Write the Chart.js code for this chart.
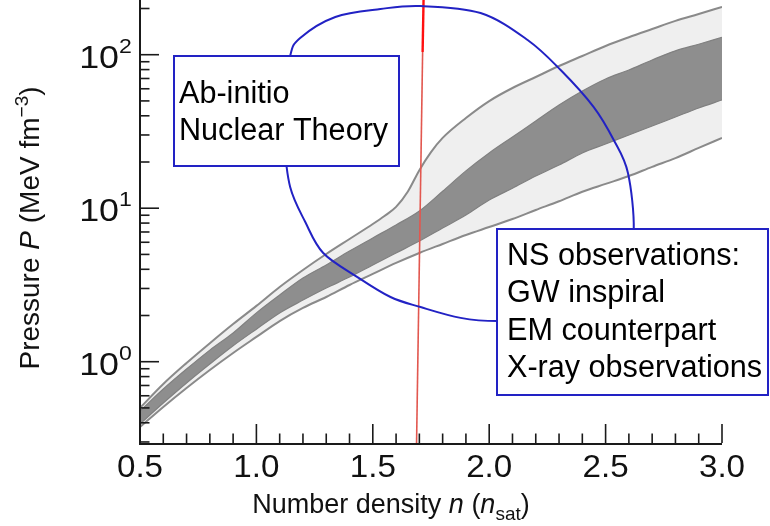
<!DOCTYPE html>
<html><head><meta charset="utf-8">
<script src="https://cdn.jsdelivr.net/npm/chart.js@4.4.1/dist/chart.umd.min.js"></script>
<style>html,body{margin:0;padding:0;background:#fff;}#wrap{width:770px;height:526px;}</style>
</head><body><div id="wrap"><canvas id="c" width="770" height="526"></canvas></div>
<script>
// ---------- data ----------
const densityGrid = [0.5,0.6,0.7,0.8,0.9,1.0,1.1,1.2,1.3,1.4,1.5,1.6,1.7,1.8,1.9,2.0,2.1,2.2,2.3,2.4,2.5,2.6,2.7,2.8,2.9,3.0];
const upperDensity = [0.5,0.6,0.7,0.8,0.9,1.0,1.1,1.2,1.3,1.4,1.5,1.55,1.6,1.65,1.7,1.75,1.8,1.9,2.0,2.1,2.2,2.3,2.4,2.5,2.6,2.7,2.8,2.9,3.0];
const upperOuterP = [0.50,0.716,0.981,1.32,1.76,2.31,3.07,3.96,5.03,6.30,7.89,8.90,10.2,12.8,17.7,23.2,28.7,38.7,49.9,60.7,71.6,84.4,98.1,114,130,147,166,184,205];
const darkTopP = [0.477,0.664,0.896,1.19,1.54,2.08,2.72,3.51,4.27,5.26,6.40,7.78,9.59,12.9,17.5,22.9,29.1,37.0,47.0,58.0,69.5,79.5,92.4,106,117,130];
const darkBottomP = [0.393,0.538,0.727,0.966,1.27,1.63,2.08,2.52,3.02,3.56,4.27,5.11,6.11,7.43,9.03,11.3,13.5,16.2,19.1,22.9,26.2,30.0,34.3,39.3,45.0,50.7];
const lowerOuterP = [0.375,0.507,0.674,0.883,1.14,1.45,1.84,2.24,2.64,3.16,3.73,4.40,5.11,5.85,6.69,7.54,8.50,9.73,11.1,12.8,14.4,16.2,18.6,21.2,24.7,28.7];
const redLineN = [1.688,1.714];
const redLineP = [0.2954,104];
const redTopN = [1.714,1.718];
const redTopP = [104,227.2];
const loopN = [1.705,1.963,2.165,2.307,2.449,2.535,2.596,2.621,2.587,2.436,2.221,2.036,1.877,1.705,1.576,1.434,1.287,1.21,1.145,1.120,1.124,1.145,1.188,1.339,1.533];
const loopP = [207.6,186.9,124.7,79.5,45.6,27.8,16.96,7.21,3.67,2.34,1.93,1.84,1.93,2.27,2.64,3.56,5.11,8.13,13.74,27.8,50.7,98.1,128.5,176.1,198.5];
const xTickValues = [0.5,1.0,1.5,2.0,2.5,3.0];
const xTickLabels = ['0.5','1.0','1.5','2.0','2.5','3.0'];
const yTickValues = [1,10,100];
const yTickBase = ['10','10','10'];
const yTickExp = ['0','1','2'];
const theoryBoxLines = ['Ab-initio','Nuclear Theory'];
const obsBoxLines = ['NS observations:','GW inspiral','EM counterpart','X-ray observations'];

// ---------- helpers ----------
const FONT = '"Liberation Sans", Arial, Helvetica, sans-serif';
const pts = (xs, ys) => xs.map((x, i) => ({x: x, y: ys[i]}));
const BLUE = '#2222c4';

function drawRich(ctx, segs, x0, y0, align) {
  let w = 0;
  segs.forEach(s => { ctx.font = (s.it ? 'italic ' : '') + s.sz + 'px ' + FONT; s.w = ctx.measureText(s.t).width; w += s.w; });
  let x = align === 'center' ? x0 - w / 2 : x0;
  ctx.textAlign = 'left';
  ctx.textBaseline = 'alphabetic';
  segs.forEach(s => { ctx.font = (s.it ? 'italic ' : '') + s.sz + 'px ' + FONT; ctx.fillText(s.t, x, y0 + (s.dy || 0)); x += s.w; });
}
function stretchText(ctx, t, x, y, sx, align) {
  ctx.save();
  ctx.translate(x, y); ctx.scale(sx, 1);
  ctx.textAlign = align; ctx.fillText(t, 0, 0);
  ctx.restore();
}

const overlay = {
  id: 'overlay',
  afterDatasetsDraw(chart) {
    const ctx = chart.ctx, xs = chart.scales.x, ys = chart.scales.y;
    const p = loopN.map((n, i) => [xs.getPixelForValue(n), ys.getPixelForValue(loopP[i])]);
    const N = p.length;
    ctx.save();
    ctx.strokeStyle = BLUE; ctx.lineWidth = 2;
    ctx.beginPath();
    ctx.moveTo(p[0][0], p[0][1]);
    for (let i = 0; i < N; i++) {
      const a = p[(i - 1 + N) % N], b = p[i], c = p[(i + 1) % N], d = p[(i + 2) % N];
      ctx.bezierCurveTo(b[0] + (c[0] - a[0]) / 6, b[1] + (c[1] - a[1]) / 6,
                        c[0] - (d[0] - b[0]) / 6, c[1] - (d[1] - b[1]) / 6, c[0], c[1]);
    }
    ctx.closePath();
    ctx.stroke();
    ctx.restore();
  },
  afterDraw(chart) {
    const ctx = chart.ctx, xs = chart.scales.x, ys = chart.scales.y, a = chart.chartArea;
    ctx.save();
    // axes lines
    ctx.strokeStyle = '#1a1a1a'; ctx.lineWidth = 2;
    ctx.beginPath(); ctx.moveTo(a.left, a.top); ctx.lineTo(a.left, a.bottom + 1); ctx.lineTo(a.right, a.bottom + 1); ctx.stroke();
    // x ticks
    ctx.lineWidth = 1.6;
    for (let k = 5; k <= 30; k++) {
      const v = k / 10, px = xs.getPixelForValue(v);
      const len = (k % 5 === 0) ? 19 : 9.5;
      ctx.beginPath(); ctx.moveTo(px, a.bottom); ctx.lineTo(px, a.bottom - len); ctx.stroke();
    }
    // y ticks
    for (let d = -1; d <= 2; d++) {
      for (let m = 1; m <= 9; m++) {
        const v = m * Math.pow(10, d);
        if (v < ys.min || v > ys.max) continue;
        const py = ys.getPixelForValue(v);
        const len = m === 1 ? 19 : 9.5;
        ctx.beginPath(); ctx.moveTo(a.left, py); ctx.lineTo(a.left + len, py); ctx.stroke();
      }
    }
    // tick labels
    ctx.fillStyle = '#111';
    ctx.textBaseline = 'alphabetic';
    ctx.font = '31px ' + FONT;
    xTickValues.forEach((v, i) => stretchText(ctx, xTickLabels[i], xs.getPixelForValue(v), 477, 1.07, 'center'));
    yTickValues.forEach((v, i) => {
      const py = ys.getPixelForValue(v);
      ctx.font = '32px ' + FONT;
      stretchText(ctx, yTickBase[i], 119, py + 13, 1.12, 'right');
      ctx.font = '21px ' + FONT;
      stretchText(ctx, yTickExp[i], 119, py - 2, 1.1, 'left');
    });
    // axis titles
    drawRich(ctx, [
      {t: 'Number density ', sz: 27}, {t: 'n', sz: 27, it: true}, {t: ' (', sz: 27},
      {t: 'n', sz: 27, it: true}, {t: 'sat', sz: 19, dy: 7}, {t: ')', sz: 27}
    ], 391, 513, 'center');
    ctx.save();
    ctx.translate(39, 228); ctx.rotate(-Math.PI / 2);
    drawRich(ctx, [
      {t: 'Pressure ', sz: 28}, {t: 'P', sz: 28, it: true}, {t: ' (MeV fm', sz: 28},
      {t: '\u22123', sz: 19, dy: -11}, {t: ')', sz: 28}
    ], 0, 0, 'center');
    ctx.restore();
    // annotation boxes
    ctx.lineWidth = 2; ctx.strokeStyle = BLUE; ctx.fillStyle = '#fff';
    ctx.fillRect(174, 56, 225, 110); ctx.strokeRect(174, 56, 225, 110);
    ctx.fillRect(497, 229, 271, 166); ctx.strokeRect(497, 229, 271, 166);
    ctx.fillStyle = '#000'; ctx.font = '30.6px ' + FONT; ctx.textAlign = 'left';
    theoryBoxLines.forEach((t, i) => ctx.fillText(t, 179, 103 + i * 37));
    obsBoxLines.forEach((t, i) => ctx.fillText(t, 507, 265 + i * 37.3));
    ctx.restore();
  }
};

const common = {pointRadius: 0, cubicInterpolationMode: 'monotone'};
new Chart(document.getElementById('c'), {
  type: 'line',
  data: {
    datasets: [
      Object.assign({label: 'Outer band upper', data: pts(upperDensity, upperOuterP), borderColor: '#8a8a8a', borderWidth: 2, backgroundColor: '#efefef', fill: {target: 1}, order: 4}, common),
      Object.assign({label: 'Outer band lower', data: pts(densityGrid, lowerOuterP), borderColor: '#8a8a8a', borderWidth: 2, fill: false, order: 3}, common),
      Object.assign({label: 'Inner band upper', data: pts(densityGrid, darkTopP), borderColor: '#808080', borderWidth: 1.2, backgroundColor: '#8e8e8e', fill: {target: 3}, order: 2}, common),
      Object.assign({label: 'Inner band lower', data: pts(densityGrid, darkBottomP), borderColor: '#808080', borderWidth: 1.2, fill: false, order: 1}, common),
      {label: 'Limit', data: pts(redLineN, redLineP), borderColor: '#e2574f', borderWidth: 1.6, pointRadius: 0, fill: false, order: 0},
      {label: 'Limit top', data: pts(redTopN, redTopP), borderColor: '#ff1010', borderWidth: 2.4, pointRadius: 0, fill: false, order: 0}
    ]
  },
  options: {
    responsive: false, animation: false, events: [],
    layout: {padding: {top: 0, right: 48, bottom: 0, left: 0}},
    plugins: {legend: {display: false}, tooltip: {enabled: false}},
    scales: {
      x: {type: 'linear', min: 0.5, max: 3.0, ticks: {display: false}, grid: {display: false}, border: {display: false},
          afterFit(s) { s.height = 83; }},
      y: {type: 'logarithmic', min: 0.2954, max: 227.2, ticks: {display: false}, grid: {display: false}, border: {display: false},
          afterFit(s) { s.width = 140; }}
    }
  },
  plugins: [overlay]
});
</script></body></html>
